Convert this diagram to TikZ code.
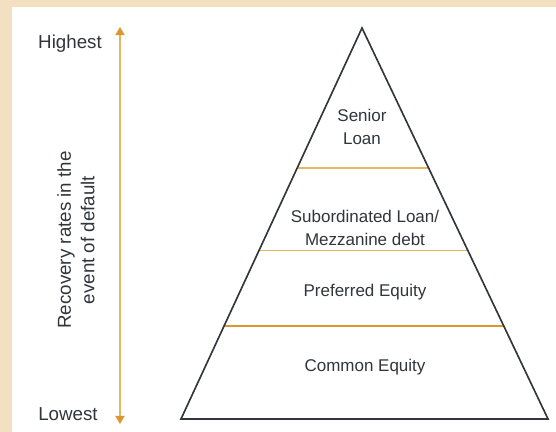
\documentclass[tikz,border=0pt]{standalone}
\usepackage{fontspec}
\setmainfont{Liberation Sans}
\usetikzlibrary{arrows.meta, positioning, calc}

\definecolor{frame}{HTML}{F3E0C0}
\definecolor{gold}{HTML}{E2B865}
\definecolor{deepgold}{HTML}{D89A2C}
\definecolor{ink}{HTML}{30363C}

\begin{document}
\begin{tikzpicture}[every node/.style={font=\fontsize{14.5}{19}\selectfont, text=ink, align=center},
  side/.style={font=\fontsize{16}{20}\selectfont}]
% Background and panel
\useasboundingbox (0,0) rectangle (16.68,12.96);
\fill[frame] (0,0) rectangle (16.68,12.96);
\fill[white] (0.36,0) rectangle (16.68,12.75);
% Pyramid
\coordinate (apex) at (10.86,12.12);
\coordinate (bl) at (5.43,0.39);
\coordinate (br) at (16.44,0.39);
% Tier lines
\draw[gold, line width=1pt] ($(apex)!0.358!(bl)$) -- ($(apex)!0.358!(br)$);
\draw[gold, line width=1pt] ($(apex)!0.570!(bl)$) -- ($(apex)!0.570!(br)$);
\draw[deepgold, line width=1pt] ($(apex)!0.762!(bl)$) -- ($(apex)!0.762!(br)$);
\draw[ink, line width=1.4pt, line join=miter] (apex) -- (bl) -- (br) -- cycle;
% Tier labels
\node (senior) at (10.86,9.15) {Senior\\Loan};
\node (mezz) at (10.95,6.12) {Subordinated Loan/\\Mezzanine debt};
\node (pref) at (10.95,4.2) {Preferred Equity};
\node (common) at (10.95,1.95) {Common Equity};
% Recovery axis
\coordinate (top) at (3.6,12.15);
\coordinate (bottom) at (3.6,0.24);
\draw[gold, line width=0.9pt, {Triangle[width=8pt,length=7pt,color=deepgold]}-{Triangle[width=8pt,length=7pt,color=deepgold]}] (top) -- (bottom);
\node[side] (high) at (2.1,11.64) {Highest};
\node[side] (low) at (2.04,0.54) {Lowest};
\node[side, rotate=90] (axis) at (2.28,5.76) {Recovery rates in the\\event of default};
\end{tikzpicture}
\end{document}
